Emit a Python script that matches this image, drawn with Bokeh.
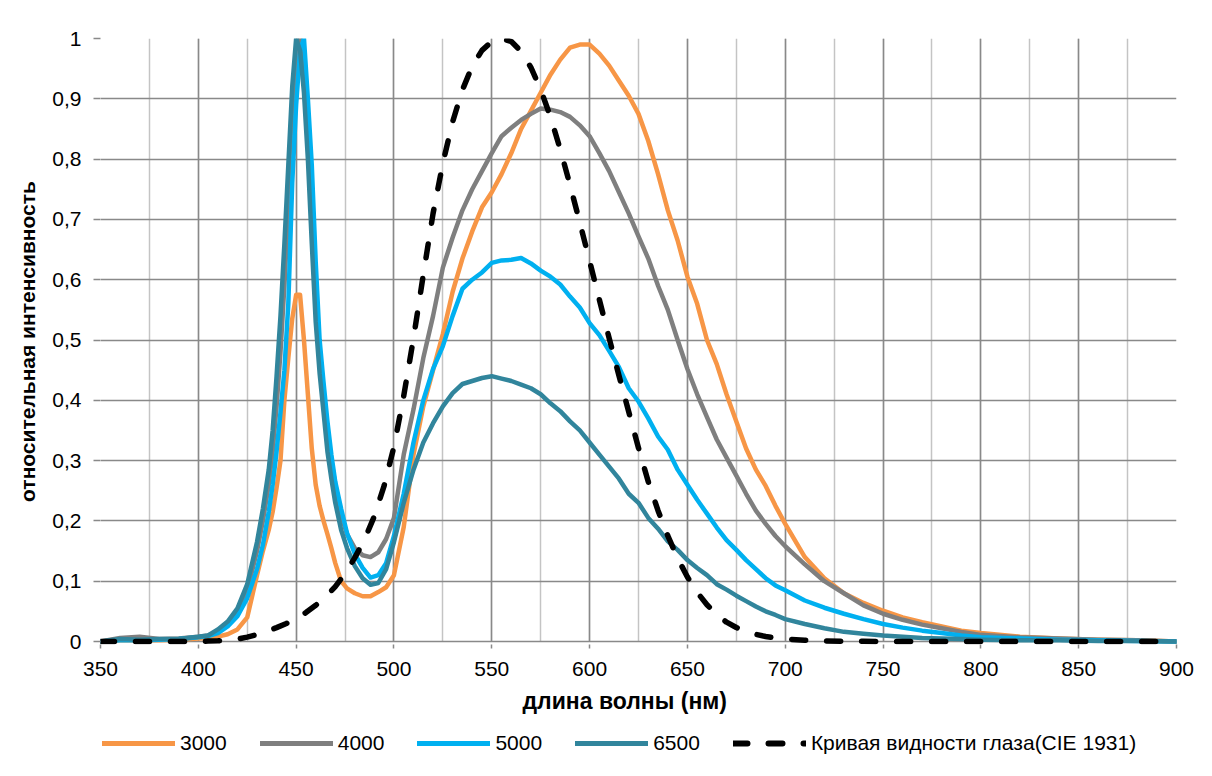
from bokeh.plotting import figure
from bokeh.layouts import column
from bokeh.models import (Range1d, SingleIntervalTicker, FixedTicker, Legend, LegendItem, Title)
from bokeh.embed import file_html
from bokeh.resources import INLINE

# ---------------- data ----------------
wl = [350, 360, 370, 380, 390, 400,
      405, 410, 415, 420, 425, 430,
      433, 436, 438,
      440, 442, 444, 446, 448, 450, 452, 454, 456, 458, 460, 462, 464, 466, 468, 470,
      473, 476, 480, 484, 488, 492, 496,
      500, 505, 510, 515, 520, 525, 530, 535, 540, 545,
      550, 555, 560, 565, 570, 575, 580, 585, 590, 595,
      600, 605, 610, 615, 620, 625, 630, 635, 640, 645,
      650, 655, 660, 665, 670, 675, 680, 685, 690, 695, 700,
      710, 720, 730, 740, 750, 760, 770, 780, 790, 800,
      820, 840, 860, 880, 900]

s3000 = [0.0, 0.002, 0.002, 0.002, 0.003, 0.005,
         0.006, 0.008, 0.012, 0.02, 0.04, 0.11,
         0.15, 0.185, 0.215,
         0.255, 0.3, 0.4, 0.47, 0.535, 0.575, 0.575, 0.5, 0.41, 0.32, 0.26, 0.225, 0.2, 0.178, 0.155, 0.13,
         0.1, 0.088, 0.08, 0.075, 0.075, 0.082, 0.09,
         0.11, 0.19, 0.31, 0.39, 0.45, 0.51, 0.58, 0.635, 0.68, 0.72,
         0.745, 0.775, 0.81, 0.85, 0.88, 0.91, 0.94, 0.965, 0.985, 0.99,
         0.99, 0.975, 0.955, 0.93, 0.905, 0.875, 0.83, 0.775, 0.715, 0.665,
         0.605, 0.56, 0.5, 0.46, 0.41, 0.365, 0.32, 0.285, 0.258, 0.225, 0.195,
         0.14, 0.105, 0.08, 0.064, 0.051, 0.04, 0.032, 0.025, 0.018, 0.014,
         0.008, 0.005, 0.003, 0.002, 0.0]

s4000 = [0.0, 0.006, 0.008, 0.004, 0.005, 0.008,
         0.01, 0.016, 0.028, 0.048, 0.085, 0.15,
         0.2, 0.26, 0.315,
         0.39, 0.48, 0.59, 0.72, 0.86, 0.96, 1.0, 0.95, 0.85, 0.72, 0.585, 0.48, 0.41, 0.35, 0.3, 0.26,
         0.21, 0.178, 0.155, 0.143, 0.14, 0.148, 0.17,
         0.205, 0.31, 0.385, 0.47, 0.54, 0.62, 0.67, 0.715, 0.75, 0.78,
         0.81, 0.838, 0.852, 0.865, 0.875, 0.884, 0.882, 0.878, 0.87, 0.856,
         0.838, 0.81, 0.78, 0.745, 0.71, 0.672, 0.635, 0.59, 0.55, 0.5,
         0.452, 0.41, 0.372, 0.335, 0.305, 0.275, 0.245, 0.217, 0.195, 0.175, 0.158,
         0.128, 0.1, 0.08, 0.06, 0.046, 0.036, 0.028, 0.022, 0.016, 0.011,
         0.007, 0.005, 0.003, 0.002, 0.0]

s5000 = [0.0, 0.002, 0.002, 0.003, 0.004, 0.007,
         0.009, 0.014, 0.025, 0.042, 0.072, 0.12,
         0.16, 0.215, 0.26,
         0.315, 0.38, 0.45, 0.56, 0.76, 0.89, 0.98, 1.0, 0.9, 0.79, 0.63, 0.5, 0.43, 0.365, 0.31, 0.265,
         0.22, 0.18, 0.145, 0.122, 0.106, 0.11, 0.13,
         0.175, 0.245, 0.33, 0.4, 0.452, 0.49, 0.54, 0.585, 0.6, 0.612,
         0.628, 0.632, 0.633, 0.636, 0.627, 0.615, 0.605, 0.592, 0.572, 0.554,
         0.528, 0.508, 0.482, 0.455, 0.42, 0.398, 0.37, 0.34, 0.318, 0.285,
         0.26, 0.235, 0.212, 0.189, 0.168, 0.152, 0.135, 0.12, 0.105, 0.093, 0.085,
         0.068, 0.056, 0.046, 0.037, 0.029, 0.023, 0.018, 0.014, 0.01, 0.007,
         0.005, 0.003, 0.002, 0.001, 0.0]

s6500 = [0.0, 0.004, 0.003, 0.004, 0.004, 0.008,
         0.01, 0.02, 0.033, 0.055, 0.095, 0.165,
         0.22, 0.285, 0.35,
         0.44, 0.54, 0.66, 0.79, 0.92, 1.0, 0.98, 0.91, 0.8, 0.66, 0.53, 0.445, 0.38, 0.315, 0.27, 0.23,
         0.185, 0.155, 0.125, 0.105, 0.094, 0.097, 0.12,
         0.165, 0.23, 0.285, 0.33, 0.362, 0.39, 0.412, 0.427, 0.432, 0.437,
         0.44, 0.436, 0.432, 0.426, 0.42, 0.41, 0.395, 0.382, 0.365, 0.35,
         0.33, 0.31, 0.29, 0.27, 0.245, 0.23, 0.205, 0.187, 0.166, 0.152,
         0.135, 0.122, 0.11, 0.095, 0.086, 0.076, 0.067, 0.058, 0.05, 0.044, 0.037,
         0.029, 0.022, 0.016, 0.013, 0.01, 0.008, 0.006, 0.005, 0.004, 0.003,
         0.002, 0.002, 0.001, 0.001, 0.0]

cie_wl = [350, 360, 370, 380, 390, 400, 405, 410, 415, 420, 425, 430, 435, 440, 445,
          450, 455, 460, 465, 470, 475, 480, 485, 490, 495, 500, 505, 510, 515, 520,
          525, 530, 535, 540, 545, 550, 555, 560, 565, 570, 575, 580, 585, 590, 595,
          600, 605, 610, 615, 620, 625, 630, 635, 640, 645, 650, 655, 660, 665, 670,
          675, 680, 685, 690, 695, 700, 710, 720, 730, 740, 750, 760, 770, 780,
          800, 850, 900]
cie_v = [0.0, 0.0000039, 0.000012, 0.000039, 0.00012, 0.000396, 0.00064, 0.00121, 0.00218,
         0.004, 0.0073, 0.0116, 0.01684, 0.023, 0.0298,
         0.038, 0.048, 0.06, 0.0739, 0.09098, 0.1126, 0.13902, 0.1693, 0.20802, 0.2586,
         0.323, 0.4073, 0.503, 0.6082, 0.71,
         0.7932, 0.862, 0.91485, 0.954, 0.9803, 0.99495, 1.0, 0.995, 0.9786, 0.952,
         0.9154, 0.87, 0.8163, 0.757, 0.6949,
         0.631, 0.5668, 0.503, 0.4412, 0.381, 0.321, 0.265, 0.217, 0.175, 0.1382,
         0.107, 0.0816, 0.061, 0.04458, 0.032,
         0.0232, 0.017, 0.01192, 0.00821, 0.005723, 0.004102, 0.002091, 0.001047,
         0.00052, 0.000249, 0.00012, 0.00006, 0.00003, 0.000015,
         0.0, 0.0, 0.0]

series_labels = ["3000", "4000", "5000", "6500", "Кривая видности глаза(CIE 1931)"]
series_colors = ["#F79646", "#7F7F7F", "#00B0F0", "#31859C", "#000000"]

y_ticks = [0.0, 0.1, 0.2, 0.3, 0.4, 0.5, 0.6, 0.7, 0.8, 0.9, 1.0]
y_tick_labels = ["0", "0,1", "0,2", "0,3", "0,4", "0,5", "0,6", "0,7", "0,8", "0,9", "1"]

x_title = "длина волны (нм)"
y_title = "относительная интенсивность"

# ---------------- main figure ----------------
FONT = "Liberation Sans"
GRID = "#898989"
pad = 3 / 603.0
MAIN_H = 725
LEG_H = 776 - MAIN_H

p = figure(width=1212, height=MAIN_H, output_backend="svg", toolbar_location=None,
           x_range=Range1d(350, 900), y_range=Range1d(-pad, 1.0),
           min_border_left=100, min_border_right=36, min_border_top=38,
           min_border_bottom=MAIN_H - 644)
p.background_fill_color = "white"
p.border_fill_color = "white"
p.outline_line_color = None

p.xaxis.ticker = SingleIntervalTicker(interval=50, num_minor_ticks=2)
p.yaxis.ticker = FixedTicker(ticks=y_ticks)
p.yaxis.major_label_overrides = dict(zip(y_ticks, y_tick_labels))
for ax in (p.xaxis[0], p.yaxis[0]):
    ax.axis_line_color = None
    ax.major_tick_line_color = GRID
    ax.major_tick_line_width = 1.5
    ax.major_tick_in = 0
    ax.minor_tick_line_color = None
    ax.major_label_text_font = FONT
    ax.major_label_text_font_size = "21px"
    ax.major_label_text_color = "#000000"
    ax.axis_label_text_font = FONT
    ax.axis_label_text_font_style = "bold"
    ax.axis_label_text_color = "#000000"
p.xaxis.major_tick_out = 4
p.xaxis.major_label_standoff = 13
p.yaxis.major_tick_out = 7
p.yaxis.major_label_standoff = 12
p.yaxis.axis_label = y_title
p.yaxis.axis_label_text_font_size = "21px"
p.yaxis.axis_label_standoff = 10

# x-axis title, placed like the original (slightly left of the frame centre)
xt = Title(text=x_title, align="left", offset=422, standoff=2,
           text_font=FONT, text_font_size="23px", text_font_style="bold",
           text_color="#000000")
try:
    xt.padding = (0, 6)
except Exception:
    pass
p.add_layout(xt, "below")

p.xgrid.grid_line_color = GRID
p.xgrid.grid_line_width = 1.5
p.xgrid.minor_grid_line_color = "#c4c4c4"
p.xgrid.minor_grid_line_width = 1.5
p.ygrid.grid_line_color = GRID
p.ygrid.grid_line_width = 1.5
try:
    p.xgrid.cross_bounds = (0, 1)
except Exception:
    pass

rs = []
for ys, col in zip([s3000, s4000, s5000, s6500], series_colors[:4]):
    rs.append(p.line(wl, ys, line_color=col, line_width=4.5,
                     line_join="round", line_cap="round"))
rs.append(p.line(cie_wl, cie_v, line_color=series_colors[4], line_width=5.5,
                 line_dash="14 21", line_cap="round", line_join="round"))

# ---------------- legend strip (frame aligned with the main frame: x 100..1176) ----------------
q = figure(width=1212, height=LEG_H, output_backend="svg", toolbar_location=None,
           x_range=Range1d(0, 1), y_range=Range1d(0, 1),
           x_axis_location=None, y_axis_location=None,
           min_border_left=100, min_border_right=36, min_border_top=0, min_border_bottom=0)
q.grid.visible = False
q.outline_line_color = None
q.background_fill_color = "white"
q.border_fill_color = "white"

items = []
for r, lab in zip(rs, series_labels):
    g = r.glyph
    qr = q.line([-5], [-5], line_color=g.line_color, line_width=g.line_width + 0.5,
                line_dash=g.line_dash, line_cap=g.line_cap, line_join=g.line_join)
    items.append(LegendItem(label=lab, renderers=[qr]))

leg = Legend(items=items, location=(2, LEG_H - 30), orientation="horizontal",
             padding=0, margin=0, spacing=33,
             glyph_width=73, glyph_height=20, label_height=20, label_standoff=5,
             label_text_font=FONT, label_text_font_size="21px",
             label_text_color="#000000", border_line_color=None,
             background_fill_alpha=0)
q.add_layout(leg, "center")

layout = column(p, q, spacing=0)
open("out.html", "w").write(file_html(layout, INLINE))
